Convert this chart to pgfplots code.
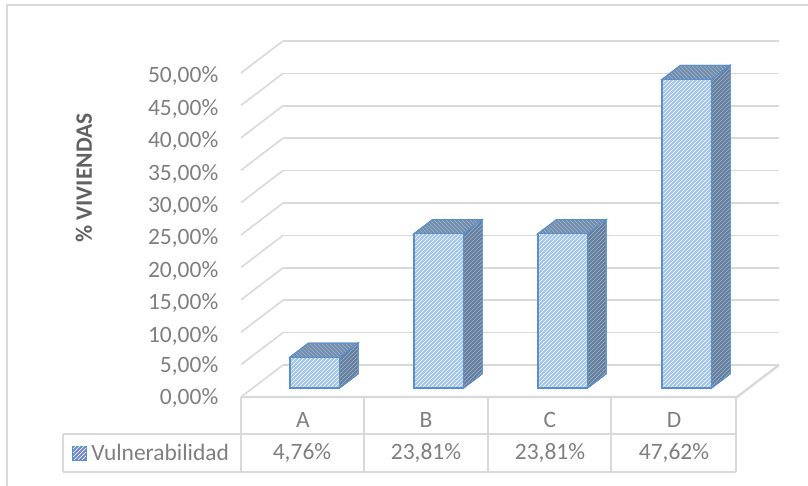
\documentclass[border=0pt]{standalone}
\usepackage{pgfplots}
\pgfplotsset{compat=1.18}
\usepackage{fontspec}
\setmainfont{Carlito}
\usetikzlibrary{patterns}
\definecolor{txt}{HTML}{7F7F7F}
\definecolor{gridc}{HTML}{D9D9D9}
\definecolor{edgeb}{HTML}{5B8FC9}
\definecolor{frontc}{HTML}{A3C6EC}
\definecolor{sidec}{HTML}{5F7FA6}
\definecolor{topc}{HTML}{6C8DB5}
\begin{document}
\begin{tikzpicture}
\begin{scope}[x=0.75pt,y=-0.75pt,yshift=364.5pt]
\path[use as bounding box] (0,0) rectangle (808,486);
\fill[white] (0,0) rectangle (808,486);
\draw[gridc,line width=1pt] (7,486) -- (7,5) -- (808,5);
\end{scope}
\begin{axis}[
  at={(180.75pt,66.75pt)},anchor=origin,
  x={(93pt,0pt)},y={(31.5pt,24pt)},z={(0pt,4.86pt)},
  xmin=0,xmax=4,ymin=0,ymax=1,zmin=0,zmax=50,
  xtick=\empty,ytick=\empty,
  ztick={0,5,10,15,20,25,30,35,40,45,50},
  zticklabels={{0,00\%},{5,00\%},{10,00\%},{15,00\%},{20,00\%},{25,00\%},{30,00\%},{35,00\%},{40,00\%},{45,00\%},{50,00\%}},
  z tick label style={font=\fontsize{17.6}{20}\selectfont,text=txt,xshift=-13.5pt,yshift=7.5pt},
  major tick length=0pt,
  zmajorgrids=true,
  major grid style={gridc,line width=1.2pt},
  axis line style={draw=none},
  clip=false,
]
\addplot3[gridc,line width=1.8pt] coordinates {(0,0,0)(4,0,0)(4,1,0)};
% bars: side, top and front faces
\addplot3[draw=edgeb,line width=.8pt,fill=sidec,postaction={pattern=north east lines,pattern color=gray!60}] coordinates {(0.7,0.28,0)(0.7,0.72,0)(0.7,0.72,4.76)(0.7,0.28,4.76)} --cycle;
\addplot3[draw=edgeb,line width=.8pt,fill=topc,postaction={pattern=north west lines,pattern color=gray!60}] coordinates {(0.3,0.28,4.76)(0.7,0.28,4.76)(0.7,0.72,4.76)(0.3,0.72,4.76)} --cycle;
\addplot3[draw=edgeb,line width=1pt,fill=frontc,postaction={pattern=north east lines,pattern color=white}] coordinates {(0.3,0.28,0)(0.7,0.28,0)(0.7,0.28,4.76)(0.3,0.28,4.76)} --cycle;
\addplot3[draw=edgeb,line width=.8pt,fill=sidec,postaction={pattern=north east lines,pattern color=gray!60}] coordinates {(1.7,0.28,0)(1.7,0.72,0)(1.7,0.72,23.81)(1.7,0.28,23.81)} --cycle;
\addplot3[draw=edgeb,line width=.8pt,fill=topc,postaction={pattern=north west lines,pattern color=gray!60}] coordinates {(1.3,0.28,23.81)(1.7,0.28,23.81)(1.7,0.72,23.81)(1.3,0.72,23.81)} --cycle;
\addplot3[draw=edgeb,line width=1pt,fill=frontc,postaction={pattern=north east lines,pattern color=white}] coordinates {(1.3,0.28,0)(1.7,0.28,0)(1.7,0.28,23.81)(1.3,0.28,23.81)} --cycle;
\addplot3[draw=edgeb,line width=.8pt,fill=sidec,postaction={pattern=north east lines,pattern color=gray!60}] coordinates {(2.7,0.28,0)(2.7,0.72,0)(2.7,0.72,23.81)(2.7,0.28,23.81)} --cycle;
\addplot3[draw=edgeb,line width=.8pt,fill=topc,postaction={pattern=north west lines,pattern color=gray!60}] coordinates {(2.3,0.28,23.81)(2.7,0.28,23.81)(2.7,0.72,23.81)(2.3,0.72,23.81)} --cycle;
\addplot3[draw=edgeb,line width=1pt,fill=frontc,postaction={pattern=north east lines,pattern color=white}] coordinates {(2.3,0.28,0)(2.7,0.28,0)(2.7,0.28,23.81)(2.3,0.28,23.81)} --cycle;
\addplot3[draw=edgeb,line width=.8pt,fill=sidec,postaction={pattern=north east lines,pattern color=gray!60}] coordinates {(3.7,0.28,0)(3.7,0.72,0)(3.7,0.72,47.62)(3.7,0.28,47.62)} --cycle;
\addplot3[draw=edgeb,line width=.8pt,fill=topc,postaction={pattern=north west lines,pattern color=gray!60}] coordinates {(3.3,0.28,47.62)(3.7,0.28,47.62)(3.7,0.72,47.62)(3.3,0.72,47.62)} --cycle;
\addplot3[draw=edgeb,line width=1pt,fill=frontc,postaction={pattern=north east lines,pattern color=white}] coordinates {(3.3,0.28,0)(3.7,0.28,0)(3.7,0.28,47.62)(3.3,0.28,47.62)} --cycle;
\end{axis}
\begin{scope}[x=0.75pt,y=-0.75pt,yshift=364.5pt]
\draw[gridc,line width=1.1pt] (63,434) -- (736,434) (63,472) -- (736,472) (63,434) -- (63,472)
  (241,397) -- (241,472) (364,397) -- (364,472) (488,397) -- (488,472) (611,397) -- (611,472) (736,397) -- (736,472);
\tikzset{tl/.style={text=txt,font=\fontsize{17.6}{20}\selectfont}}
\node[tl] at (303,420) {A};
\node[tl] at (426,420) {B};
\node[tl] at (550,420) {C};
\node[tl] at (674,420) {D};
\node[tl] at (302,453) {4,76\%};
\node[tl] at (426,453) {23,81\%};
\node[tl] at (550,453) {23,81\%};
\node[tl] at (674,453) {47,62\%};
\node[tl,anchor=west,inner sep=0pt] at (91,452) {Vulnerabilidad};
\fill[frontc!70!blue!70!gray,draw=edgeb,line width=1pt] (73,447) rectangle (86,460);
\fill[pattern=north east lines,pattern color=white] (73,447) rectangle (86,460);
\node[rotate=90,text=black!62,font=\bfseries\fontsize{17.6}{20}\selectfont] at (84,178) {\% VIVIENDAS};
\end{scope}
\end{tikzpicture}
\end{document}
